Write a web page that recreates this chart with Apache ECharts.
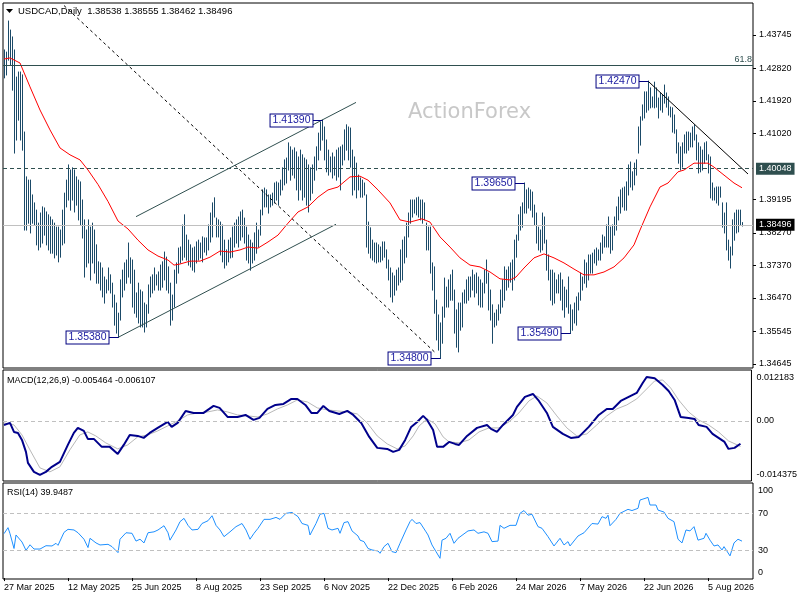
<!DOCTYPE html>
<html><head><meta charset="utf-8">
<script src="https://cdn.jsdelivr.net/npm/echarts@6/dist/echarts.min.js"></script>
<style>html,body{margin:0;padding:0;background:#fff}#chart{width:800px;height:600px}</style>
</head><body><div id="chart"></div>
<script>
const symbolName = 'USDCAD,Daily';
const tickLabels = ['27 Mar 2025','12 May 2025','25 Jun 2025','8 Aug 2025','23 Sep 2025','6 Nov 2025','22 Dec 2025','6 Feb 2026','24 Mar 2026','7 May 2026','22 Jun 2026','5 Aug 2026'];
const lastBar = [1.38538, 1.38555, 1.38462, 1.38496];
const barHigh = [
1.4333,1.4327,1.4413,1.4388,1.4369,1.4333,1.4258,1.4272,1.4272,1.4264,
1.4106,1.3982,1.3973,1.3973,1.3932,1.3910,1.3890,1.3854,1.3882,1.3899,
1.3896,1.3885,1.3877,1.3871,1.3863,1.3854,1.3843,1.3843,1.3835,1.3890,
1.3937,1.3973,1.4015,1.4001,1.4007,1.4001,1.3982,1.3973,1.3968,1.3918,
1.3863,1.3835,1.3863,1.3843,1.3854,1.3835,1.3794,1.3747,1.3744,1.3730,
1.3705,1.3697,1.3730,1.3711,1.3688,1.3655,1.3633,1.3605,1.3697,1.3724,
1.3744,1.3752,1.3799,1.3758,1.3752,1.3724,1.3661,1.3688,1.3669,1.3664,
1.3633,1.3628,1.3683,1.3705,1.3711,1.3730,1.3711,1.3719,1.3738,1.3747,
1.3774,1.3760,1.3733,1.3688,1.3655,1.3724,1.3744,1.3785,1.3788,1.3849,
1.3877,1.3821,1.3807,1.3794,1.3785,1.3788,1.3802,1.3807,1.3799,1.3816,
1.3813,1.3813,1.3849,1.3882,1.3910,1.3924,1.3868,1.3863,1.3857,1.3849,
1.3807,1.3780,1.3807,1.3813,1.3843,1.3854,1.3863,1.3871,1.3885,1.3890,
1.3868,1.3843,1.3821,1.3807,1.3799,1.3827,1.3854,1.3835,1.3890,1.3946,
1.3951,1.3946,1.3932,1.3932,1.3937,1.3965,1.3968,1.3965,1.3973,1.4007,
1.4029,1.4034,1.4076,1.4065,1.4056,1.4062,1.4051,1.4037,1.4056,1.4043,
1.4034,1.4029,1.4015,1.4007,1.4015,1.4037,1.4065,1.4103,1.4134,1.4139,
1.4120,1.4084,1.4056,1.4037,1.4048,1.4037,1.4056,1.4062,1.4065,1.4070,
1.4112,1.4126,1.4120,1.4117,1.4056,1.4037,1.4020,1.3987,1.3979,1.3973,
1.3965,1.3932,1.3857,1.3841,1.3807,1.3799,1.3799,1.3794,1.3788,1.3802,
1.3802,1.3780,1.3752,1.3730,1.3716,1.3708,1.3724,1.3730,1.3780,1.3807,
1.3816,1.3854,1.3882,1.3918,1.3918,1.3918,1.3924,1.3926,1.3918,1.3918,
1.3910,1.3854,1.3843,1.3843,1.3744,1.3733,1.3641,1.3600,1.3578,1.3622,
1.3702,1.3677,1.3697,1.3711,1.3724,1.3669,1.3614,1.3633,1.3633,1.3661,
1.3669,1.3697,1.3705,1.3705,1.3724,1.3711,1.3716,1.3705,1.3697,1.3688,
1.3724,1.3752,1.3716,1.3669,1.3628,1.3605,1.3614,1.3628,1.3669,1.3697,
1.3733,1.3724,1.3733,1.3744,1.3752,1.3807,1.3821,1.3877,1.3899,1.3910,
1.3965,1.3946,1.3951,1.3946,1.3940,1.3904,1.3882,1.3843,1.3835,1.3882,
1.3871,1.3807,1.3766,1.3724,1.3724,1.3716,1.3697,1.3711,1.3716,1.3697,
1.3677,1.3669,1.3705,1.3628,1.3614,1.3633,1.3650,1.3661,1.3716,1.3705,
1.3752,1.3744,1.3766,1.3766,1.3771,1.3780,1.3785,1.3780,1.3799,1.3821,
1.3816,1.3849,1.3871,1.3843,1.3849,1.3871,1.3899,1.3926,1.3946,1.3951,
1.3954,1.3968,1.4015,1.4023,1.3996,1.4020,1.4029,1.4120,1.4148,1.4181,
1.4217,1.4217,1.4247,1.4228,1.4203,1.4244,1.4228,1.4200,1.4214,1.4209,
1.4236,1.4214,1.4203,1.4175,1.4173,1.4153,1.4112,1.4076,1.4065,1.4076,
1.4098,1.4106,1.4106,1.4103,1.4120,1.4126,1.4098,1.4076,1.4065,1.4056,
1.4076,1.4079,1.4043,1.4037,1.3965,1.3951,1.3954,1.3954,1.3954,1.3910,
1.3882,1.3910,1.3807,1.3788,1.3863,1.3882,1.3890,1.3890,1.3890,1.38555];
const barLow = [
1.4256,1.4264,1.4305,1.4292,1.4222,1.4048,1.4084,1.4139,1.4084,1.4056,
1.3835,1.3835,1.3854,1.3827,1.3854,1.3849,1.3794,1.3780,1.3788,1.3799,
1.3821,1.3794,1.3780,1.3771,1.3771,1.3758,1.3766,1.3747,1.3760,1.3794,
1.3799,1.3899,1.3918,1.3890,1.3918,1.3885,1.3904,1.3863,1.3849,1.3813,
1.3705,1.3733,1.3744,1.3697,1.3744,1.3716,1.3688,1.3688,1.3669,1.3650,
1.3633,1.3661,1.3669,1.3661,1.3622,1.3572,1.3550,1.3538,1.3586,1.3650,
1.3669,1.3688,1.3705,1.3688,1.3622,1.3605,1.3594,1.3578,1.3567,1.3567,
1.3553,1.3567,1.3605,1.3650,1.3661,1.3669,1.3683,1.3669,1.3669,1.3677,
1.3697,1.3669,1.3661,1.3572,1.3586,1.3622,1.3688,1.3716,1.3744,1.3752,
1.3760,1.3752,1.3738,1.3733,1.3724,1.3719,1.3744,1.3752,1.3758,1.3747,
1.3774,1.3766,1.3780,1.3802,1.3816,1.3871,1.3816,1.3816,1.3766,1.3747,
1.3730,1.3738,1.3747,1.3758,1.3760,1.3788,1.3799,1.3788,1.3807,1.3816,
1.3799,1.3752,1.3744,1.3724,1.3744,1.3752,1.3771,1.3788,1.3821,1.3877,
1.3899,1.3899,1.3882,1.3899,1.3904,1.3910,1.3918,1.3904,1.3932,1.3946,
1.3960,1.3965,1.4001,1.3973,1.3987,1.3979,1.3946,1.3918,1.3946,1.3918,
1.3926,1.3904,1.3885,1.3918,1.3937,1.3973,1.4001,1.4029,1.4056,1.4084,
1.4029,1.3996,1.3987,1.3996,1.3979,1.3987,1.3973,1.3982,1.3946,1.4015,
1.4029,1.4056,1.4029,1.4009,1.3932,1.3946,1.3924,1.3946,1.3926,1.3926,
1.3932,1.3788,1.3771,1.3758,1.3752,1.3747,1.3744,1.3747,1.3747,1.3752,
1.3760,1.3730,1.3697,1.3650,1.3636,1.3655,1.3669,1.3683,1.3691,1.3697,
1.3744,1.3760,1.3816,1.3854,1.3871,1.3882,1.3877,1.3871,1.3863,1.3854,
1.3863,1.3780,1.3780,1.3716,1.3669,1.3605,1.3531,1.3503,1.3480,1.3522,
1.3594,1.3622,1.3622,1.3641,1.3641,1.3550,1.3511,1.3498,1.3558,1.3567,
1.3633,1.3633,1.3641,1.3650,1.3669,1.3650,1.3661,1.3628,1.3622,1.3622,
1.3661,1.3688,1.3614,1.3586,1.3522,1.3567,1.3572,1.3586,1.3605,1.3622,
1.3641,1.3669,1.3677,1.3691,1.3669,1.3697,1.3760,1.3807,1.3835,1.3843,
1.3882,1.3882,1.3896,1.3890,1.3871,1.3849,1.3799,1.3780,1.3774,1.3780,
1.3799,1.3724,1.3697,1.3641,1.3628,1.3633,1.3661,1.3661,1.3641,1.3614,
1.3594,1.3622,1.3605,1.3549,1.3558,1.3578,1.3572,1.3614,1.3641,1.3669,
1.3688,1.3677,1.3697,1.3716,1.3716,1.3744,1.3738,1.3752,1.3752,1.3771,
1.3788,1.3788,1.3788,1.3771,1.3780,1.3821,1.3835,1.3863,1.3882,1.3899,
1.3890,1.3890,1.3932,1.3954,1.3946,1.3960,1.3987,1.4048,1.4070,1.4139,
1.4145,1.4161,1.4167,1.4173,1.4175,1.4173,1.4175,1.4145,1.4167,1.4161,
1.4186,1.4175,1.4153,1.4148,1.4106,1.4103,1.4048,1.4020,1.4001,1.4009,
1.4048,1.4048,1.4056,1.4065,1.4065,1.4084,1.4029,1.3993,1.3996,1.4001,
1.4020,1.4029,1.3993,1.3924,1.3918,1.3918,1.3910,1.3904,1.3926,1.3843,
1.3827,1.3780,1.3752,1.3730,1.3766,1.3807,1.3827,1.3830,1.3849,1.38462];
const maPoints = [[0,1.4308],[3,1.4311],[8,1.4297],[13,1.4231],[18,1.4167],[23,1.4112],[28,1.4062],[33,1.4043],[38,1.4029],[42,1.4001],[47,1.3961],[52,1.3914],[57,1.3860],[62,1.3838],[67,1.3807],[72,1.3780],[77,1.3763],[82,1.3752],[85,1.3738],[88,1.3741],[93,1.3749],[98,1.3749],[103,1.3760],[108,1.3777],[113,1.3774],[118,1.3780],[122,1.3788],[127,1.3785],[132,1.3802],[137,1.3821],[142,1.3854],[147,1.3885],[152,1.3899],[157,1.3926],[162,1.3946],[167,1.3954],[170,1.3968],[173,1.3982],[178,1.3984],[182,1.3973],[187,1.3946],[193,1.3910],[198,1.3863],[203,1.3857],[209,1.3866],[213,1.3857],[218,1.3816],[223,1.3788],[228,1.3758],[233,1.3738],[238,1.3733],[243,1.3719],[248,1.3700],[253,1.3697],[256,1.3705],[260,1.3730],[265,1.3758],[270,1.3769],[275,1.3758],[280,1.3744],[285,1.3727],[290,1.3711],[295,1.3711],[300,1.3719],[305,1.3733],[310,1.3758],[315,1.3794],[318,1.3835],[323,1.3899],[328,1.3954],[332,1.3965],[337,1.3996],[340,1.4001],[345,1.4020],[352,1.4020],[355,1.4009],[360,1.3987],[365,1.3965],[369,1.3952]];
const macdPoints = [[0,-0.00096],[3,-0.00048],[5,-0.00263],[7,-0.00287],[9,-0.00454],[11,-0.00741],[12,-0.01004],[15,-0.01219],[18,-0.01291],[21,-0.01219],[24,-0.01099],[28,-0.0098],[32,-0.00574],[35,-0.00287],[37,-0.00167],[40,-0.00239],[42,-0.0043],[45,-0.0043],[49,-0.00621],[53,-0.00621],[57,-0.00789],[60,-0.00574],[63,-0.00335],[67,-0.00359],[70,-0.00406],[73,-0.00287],[77,-0.00167],[82,-0.00024],[84,-0.00143],[87,-0.00048],[91,0.00239],[95,0.00191],[100,0.00191],[105,0.00359],[108,0.00311],[112,0.00096],[117,0.00096],[121,0.00143],[125,0.00024],[128,0.00072],[132,0.00287],[136,0.00382],[140,0.00406],[144,0.00526],[147,0.00526],[151,0.00382],[154,0.00191],[157,0.00191],[160,0.00359],[163,0.00239],[168,0.00167],[172,0.00239],[175,0.00143],[179,-0.00048],[183,-0.00382],[187,-0.00645],[192,-0.00669],[195,-0.00741],[198,-0.00693],[201,-0.00454],[204,-0.00143],[207,-0.00024],[210,0.0012],[212,0.00024],[215,-0.00215],[217,-0.00621],[220,-0.00621],[223,-0.00502],[226,-0.0055],[228,-0.00574],[232,-0.00359],[237,-0.00167],[242,-0.00096],[244,-0.00191],[247,-0.00263],[250,-0.00096],[255,0.00143],[257,0.00335],[261,0.00574],[265,0.00645],[268,0.00478],[272,0.00191],[275,-0.00143],[280,-0.00311],[284,-0.00406],[288,-0.00382],[293,-0.00143],[298,0.00143],[302,0.00287],[305,0.00287],[309,0.00478],[313,0.00574],[317,0.00669],[320,0.00908],[322,0.0105],[326,0.0102],[330,0.0086],[333,0.00717],[336,0.00502],[339,0.00096],[343,0.00072],[346,0.00048],[348,-0.00096],[352,-0.00143],[355,-0.00311],[358,-0.00406],[361,-0.00502],[363,-0.00669],[366,-0.00645],[369,-0.005464]];
const signalPoints = [[0,-0.00048],[5,-0.00096],[9,-0.00335],[13,-0.00693],[18,-0.01123],[23,-0.01219],[28,-0.01099],[33,-0.00693],[38,-0.00335],[42,-0.00263],[46,-0.00359],[51,-0.00526],[57,-0.00669],[62,-0.00574],[67,-0.00382],[72,-0.00335],[77,-0.00239],[82,-0.0012],[87,0],[92,0.00143],[97,0.00191],[102,0.00215],[107,0.00263],[112,0.00215],[117,0.00143],[122,0.0012],[127,0.00096],[132,0.00167],[137,0.00287],[142,0.00382],[147,0.00502],[152,0.00454],[157,0.00311],[162,0.00263],[167,0.00239],[172,0.00215],[177,0.00167],[182,-0.00048],[187,-0.00359],[192,-0.0055],[197,-0.00669],[201,-0.00598],[205,-0.00359],[208,-0.0012],[212,0.00048],[216,-0.00072],[220,-0.00382],[223,-0.00502],[228,-0.00526],[233,-0.00454],[238,-0.00263],[243,-0.00167],[248,-0.00167],[253,-0.00024],[258,0.00191],[263,0.00478],[267,0.00598],[272,0.0043],[277,0.0012],[282,-0.00167],[287,-0.00359],[292,-0.00311],[297,-0.00096],[302,0.0012],[307,0.00287],[312,0.00382],[317,0.00526],[322,0.00765],[326,0.00956],[330,0.0098],[334,0.00789],[338,0.00502],[343,0.00215],[348,0.00024],[353,-0.00096],[358,-0.00263],[363,-0.00478],[369,-0.006107]];
const rsiPoints = [[0,48],[2,54.5],[3,48],[5,32],[6,46.6],[7,47.6],[9,39],[11,30],[13,36],[15,31.4],[18,31.4],[21,35],[24,34.7],[26,37.6],[27,35.4],[30,49.4],[32,52.7],[35,52],[37,49],[40,42],[42,33],[43,43],[46,38],[48,35.8],[52,36.5],[54,34],[57,27.5],[58,42],[61,49],[64,48.4],[66,40],[68,42],[70,38],[72,49],[75,50],[77,52],[80,56.6],[82,49],[83,41],[86,52],[88,61],[90,64.6],[92,57],[94,52],[97,52.7],[99,59],[102,62],[104,67.4],[106,57],[108,52],[110,44.8],[113,50],[116,55.6],[119,59],[121,52],[123,42],[125,48.4],[127,53.8],[130,63.5],[133,63.5],[136,65.6],[138,63.5],[141,70],[144,71],[147,66.4],[149,59],[152,57],[153,46.6],[156,59],[158,69],[160,70],[162,53.8],[164,52],[167,53.8],[168,48.4],[170,60],[172,61],[174,51],[177,45.5],[178,41],[180,39.4],[182,32],[184,30.4],[187,29.3],[188,26.8],[190,34],[192,37.6],[194,28.6],[196,27.5],[198,37.6],[201,52],[203,61],[204,63.5],[206,59],[208,60],[209,61],[211,50],[212,46.6],[214,35.8],[216,28.6],[218,21.4],[219,41],[221,43],[223,48.4],[225,37.6],[227,43],[232,51],[235,52],[237,48.4],[240,50],[242,48.4],[244,39.4],[247,40],[248,57],[250,53.8],[253,57],[256,57],[258,70],[260,73],[262,68],[264,69],[267,55.6],[269,53.8],[272,44.8],[275,34.7],[278,43],[280,35.8],[282,39.4],[283,34.7],[287,45.5],[290,49],[294,59],[297,58.4],[299,66.4],[301,64.6],[302,68],[303,56.6],[306,63.5],[308,70],[312,74.3],[314,73],[317,75.4],[318,84.4],[322,87.2],[323,79],[326,79],[327,73.5],[330,71.4],[332,64.6],[335,61],[337,42],[339,38],[341,52],[343,51],[345,55.6],[347,41],[350,43],[351,48.4],[353,41],[355,34.7],[357,35.8],[359,30.4],[360,34],[363,24],[365,38],[367,42],[369,39.9487]];
const priceTicks = [1.43745,1.42820,1.41920,1.41020,1.39195,1.38270,1.37370,1.36470,1.35545,1.34645];
const macdTicks = [0.012183, 0, -0.014375];
const rsiTicks = [100, 70, 30, 0];
const rsiLevels = [70, 30];
const pivots = [[57,1.35380],[159,1.41390],[218,1.34800],[260,1.39650],[283,1.35490],[322,1.42470]];
const fibLevel = 1.4291, fibText = '61.8';
const levelLine = 1.40048;
const channelUpper = [[66,1.3872],[176,1.4188]];
const channelLower = [[57,1.3538],[166,1.3851]];
const dashedTrend = [[30,1.4456],[216,1.3494]];
const downTrend = [[322,1.4247],[372,1.3990]];
const SLOTS = 375;

const FONT = '"Liberation Sans", Arial, sans-serif';
const BAR_COLOR = '#1b4a68';
const categories = Array.from({length: SLOTS}, (_, i) => String(i));
const lastClose = lastBar[3];

const chart = echarts.init(document.getElementById('chart'), null, {renderer: 'canvas'});

function xAx(g) {
  return {
    type: 'category', gridIndex: g, data: categories, boundaryGap: true,
    show: g === 2,
    axisLine: {show: false},
    axisTick: {show: g === 2, interval: 31, alignWithLabel: true, length: 3, lineStyle: {color: '#000'}},
    axisLabel: {show: g === 2, interval: 31, align: 'left', margin: 4, fontSize: 9, fontFamily: FONT, color: '#000',
      formatter: (v, i) => tickLabels[Math.round(i / 32)] || ''},
    splitLine: {show: false}
  };
}
const lbl = {fontSize: 9, fontFamily: FONT, color: '#000'};

const option = {
  animation: false,
  backgroundColor: '#fff',
  textStyle: {fontFamily: FONT},
  grid: [
    {left: 3, top: 3, width: 750, height: 365, show: true, borderColor: '#000', borderWidth: 1, backgroundColor: 'transparent'},
    {left: 3, top: 370, width: 750, height: 111, show: true, borderColor: '#000', borderWidth: 1, backgroundColor: 'transparent'},
    {left: 3, top: 483, width: 750, height: 96, show: true, borderColor: '#000', borderWidth: 1, backgroundColor: 'transparent'}
  ],
  xAxis: [xAx(0), xAx(1), xAx(2)],
  yAxis: [
    {type: 'value', gridIndex: 0, position: 'right', min: 1.34534, max: 1.44630,
      axisLine: {show: false}, splitLine: {show: false},
      axisTick: {show: true, customValues: priceTicks, length: 3, lineStyle: {color: '#000'}},
      axisLabel: Object.assign({customValues: priceTicks, margin: 6, formatter: v => v.toFixed(5)}, lbl)},
    {type: 'value', gridIndex: 1, position: 'right', min: macdTicks[2], max: macdTicks[0],
      axisLine: {show: false}, splitLine: {show: false},
      axisTick: {show: false},
      axisLabel: Object.assign({customValues: macdTicks, margin: 5,
        formatter: v => v === 0 ? '0.00' : (v > 0 ? '{t|' + v.toFixed(6) + '}' : '{b|' + v.toFixed(6) + '}'),
        rich: {t: Object.assign({padding: [15, 0, 0, 0]}, lbl), b: Object.assign({padding: [0, 0, 13, 0]}, lbl)}}, lbl)},
    {type: 'value', gridIndex: 2, position: 'right', min: -1, max: 102.8,
      axisLine: {show: false}, splitLine: {show: false},
      axisTick: {show: false},
      axisLabel: Object.assign({customValues: rsiTicks, margin: 5,
        formatter: v => v === 100 ? '{t|100}' : (v === 0 ? '{b|0}' : String(v)),
        rich: {t: Object.assign({padding: [10, 0, 0, 0]}, lbl), b: Object.assign({padding: [0, 0, 11, 0]}, lbl)}}, lbl)}
  ],
  graphic: [
    {type: 'text', x: 408, y: 113, z: 1, style: {text: 'ActionForex', fontSize: 21, fontFamily: '"DejaVu Sans", sans-serif', fill: '#c8c8c8', verticalAlign: 'middle'}},
    {type: 'polygon', z: 10, shape: {points: [[6, 9], [13, 9], [9.5, 13]]}, style: {fill: '#000'}},
    {type: 'text', x: 18, y: 11, z: 10, style: {text: symbolName + '  ' + lastBar.map(v => v.toFixed(5)).join(' '), fontSize: 9.5, fontFamily: FONT, fill: '#000', verticalAlign: 'middle'}},
    {type: 'text', x: 7, y: 380.5, z: 10, style: {text: 'MACD(12,26,9) ' + macdPoints[macdPoints.length - 1][1].toFixed(6) + ' ' + signalPoints[signalPoints.length - 1][1].toFixed(6), fontSize: 9, fontFamily: FONT, fill: '#000', verticalAlign: 'middle'}},
    {type: 'text', x: 7, y: 493, z: 10, style: {text: 'RSI(14) ' + rsiPoints[rsiPoints.length - 1][1].toFixed(4), fontSize: 9, fontFamily: FONT, fill: '#000', verticalAlign: 'middle'}}
  ],
  series: [
    {
      type: 'line', name: 'levels', xAxisIndex: 0, yAxisIndex: 0, data: [], silent: true,
      markLine: {
        silent: true, symbol: ['none', 'none'], animation: false, precision: 5,
        data: [
          {yAxis: fibLevel, lineStyle: {color: '#2f4f4f', type: 'solid', width: 1},
            label: {show: true, position: 'insideEndTop', formatter: fibText, color: '#2f4f4f', fontSize: 9, fontFamily: FONT, distance: [1, 1]}},
          {yAxis: levelLine, lineStyle: {color: '#2f4f4f', type: [4, 3], width: 1},
            label: {show: true, position: 'end', formatter: levelLine.toFixed(5), color: '#fff', backgroundColor: '#2f4f4f', padding: [2, 3, 1, 3], fontSize: 9, fontFamily: FONT, distance: 3}},
          {yAxis: lastClose, lineStyle: {color: '#c0c0c0', type: 'solid', width: 1},
            label: {show: true, position: 'end', formatter: lastClose.toFixed(5), color: '#fff', backgroundColor: '#000', padding: [2, 3, 1, 3], fontSize: 9, fontFamily: FONT, distance: 3}}
        ]
      }
    },
    {
      type: 'custom', name: 'bars', xAxisIndex: 0, yAxisIndex: 0, silent: true, z: 3,
      data: barHigh.map((h, i) => [i, barLow[i], h]),
      encode: {x: 0, y: [1, 2]},
      renderItem: (params, api) => {
        const lo = api.coord([api.value(0), api.value(1)]);
        const hi = api.coord([api.value(0), api.value(2)]);
        const x = Math.round(lo[0]) + 0.5;
        return {type: 'line', shape: {x1: x, y1: lo[1] + 0.5, x2: x, y2: hi[1] - 0.5}, style: {stroke: BAR_COLOR, lineWidth: 1}};
      }
    },
    {type: 'line', name: 'MA', xAxisIndex: 0, yAxisIndex: 0, data: maPoints, showSymbol: false, silent: true, z: 4,
      lineStyle: {color: '#ff0000', width: 1}},
    {type: 'line', name: 'dashedTrend', xAxisIndex: 0, yAxisIndex: 0, data: dashedTrend, showSymbol: false, silent: true, z: 4,
      lineStyle: {color: '#000', width: 1, type: [3, 3]}},
    {type: 'line', name: 'channelUpper', xAxisIndex: 0, yAxisIndex: 0, data: channelUpper, showSymbol: false, silent: true, z: 4,
      lineStyle: {color: '#2f4f4f', width: 1}},
    {type: 'line', name: 'channelLower', xAxisIndex: 0, yAxisIndex: 0, data: channelLower, showSymbol: false, silent: true, z: 4,
      lineStyle: {color: '#2f4f4f', width: 1}},
    {type: 'line', name: 'downTrend', xAxisIndex: 0, yAxisIndex: 0, data: downTrend, showSymbol: false, silent: true, z: 4,
      lineStyle: {color: '#000', width: 1}},
    {
      type: 'custom', name: 'pivots', xAxisIndex: 0, yAxisIndex: 0, silent: true, z: 6,
      data: pivots, encode: {x: 0, y: 1},
      renderItem: (params, api) => {
        const p = api.coord([api.value(0), api.value(1)]);
        const x = Math.round(p[0]) + 0.5;
        const y = Math.round(p[1]) + 0.5;
        return {type: 'group', children: [
          {type: 'line', shape: {x1: x - 10, y1: y, x2: x, y2: y}, style: {stroke: '#000080', lineWidth: 1}},
          {type: 'text', x: x - 10, y: y, style: {text: pivots[params.dataIndex][1].toFixed(5), align: 'right', verticalAlign: 'middle',
            fill: '#1a1aa0', fontSize: 10.5, fontFamily: FONT, backgroundColor: '#fff', borderColor: '#000080', borderWidth: 1, padding: [1, 2, 0, 2]}}
        ]};
      }
    },
    {type: 'line', name: 'signal', xAxisIndex: 1, yAxisIndex: 1, data: signalPoints, showSymbol: false, silent: true, z: 3,
      lineStyle: {color: '#b8b8b8', width: 1}},
    {type: 'line', name: 'MACD', xAxisIndex: 1, yAxisIndex: 1, data: macdPoints, showSymbol: false, silent: true, z: 4,
      lineStyle: {color: '#00008b', width: 2},
      markLine: {silent: true, symbol: ['none', 'none'], label: {show: false}, precision: 6,
        data: [{yAxis: 0}], lineStyle: {color: '#c0c0c0', type: [4, 3], width: 1}}},
    {type: 'line', name: 'RSI', xAxisIndex: 2, yAxisIndex: 2, data: rsiPoints, showSymbol: false, silent: true, z: 4,
      lineStyle: {color: '#1e90ff', width: 1},
      markLine: {silent: true, symbol: ['none', 'none'], label: {show: false},
        data: rsiLevels.map(v => ({yAxis: v})), lineStyle: {color: '#c0c0c0', type: [4, 3], width: 1}}}
  ]
};
chart.setOption(option);
</script>
</body></html>
